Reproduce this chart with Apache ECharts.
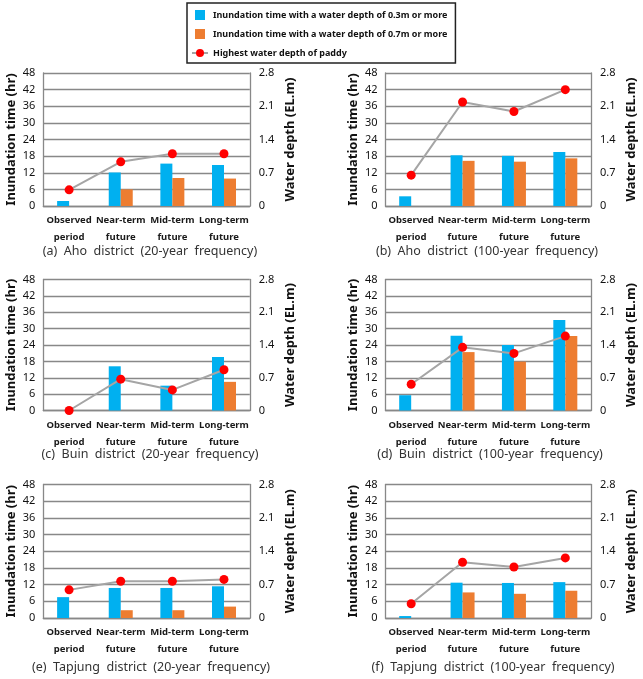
<!DOCTYPE html>
<html>
<head>
<meta charset="utf-8">
<script src="https://cdn.jsdelivr.net/npm/echarts@6/dist/echarts.min.js"></script>
<style>
html,body{margin:0;padding:0;background:#fff;}
#chart{width:643px;height:679px;}
</style>
</head>
<body>
<div id="chart"></div>
<script>
// ---- data ----
const categories = ['Observed\nperiod', 'Near-term\nfuture', 'Mid-term\nfuture', 'Long-term\nfuture'];
const timeTicks = [0, 6, 12, 18, 24, 30, 36, 42, 48];
const depthTicks = [0, 0.7, 1.4, 2.1, 2.8];
const seriesNames = [
  'Inundation time with a water depth of 0.3m or more',
  'Inundation time with a water depth of 0.7m or more',
  'Highest water depth of paddy'
];
const captions = [
  '(a)  Aho  district  (20-year  frequency)',
  '(b)  Aho  district  (100-year  frequency)',
  '(c)  Buin  district  (20-year  frequency)',
  '(d)  Buin  district  (100-year  frequency)',
  '(e)  Tapjung  district  (20-year  frequency)',
  '(f)  Tapjung  district  (100-year  frequency)'
];
const aho20_03 = [1.8, 12.1, 15.3, 14.8];
const aho20_07 = [0, 6.0, 10.1, 9.9];
const aho20_depth = [0.34, 0.93, 1.10, 1.10];
const aho100_03 = [3.5, 18.3, 18.1, 19.5];
const aho100_07 = [0, 16.3, 16.0, 17.2];
const aho100_depth = [0.65, 2.19, 1.99, 2.45];
const buin20_03 = [0, 16.2, 9.1, 19.6];
const buin20_07 = [0, 0, 0, 10.5];
const buin20_depth = [0.0, 0.67, 0.44, 0.87];
const buin100_03 = [5.6, 27.4, 24.0, 33.2];
const buin100_07 = [0, 21.4, 17.9, 27.3];
const buin100_depth = [0.56, 1.35, 1.22, 1.59];
const tap20_03 = [7.5, 10.8, 10.8, 11.4];
const tap20_07 = [0, 2.8, 2.8, 4.1];
const tap20_depth = [0.59, 0.77, 0.77, 0.81];
const tap100_03 = [0.7, 12.7, 12.6, 12.9];
const tap100_07 = [0, 9.2, 8.7, 9.8];
const tap100_depth = [0.30, 1.17, 1.07, 1.26];

const panels = [
  [aho20_03, aho20_07, aho20_depth],
  [aho100_03, aho100_07, aho100_depth],
  [buin20_03, buin20_07, buin20_depth],
  [buin100_03, buin100_07, buin100_depth],
  [tap20_03, tap20_07, tap20_depth],
  [tap100_03, tap100_07, tap100_depth]
];

// ---- layout ----
const FONT = 'Noto Sans';
const colLeft = [43.3, 385.5];
const colWidth = [206.5, 205.5];
const rowTop = [73, 279.5, 484.5];
const rowHeight = [133, 131, 133.5];
const capPos = [[150, 251], [487, 251], [150, 454], [490, 454], [151, 667], [493, 667]];
const GRID_COLOR = '#888888';
const BLUE = '#00B0F0', ORANGE = '#ED7D31', LINEC = '#A5A5A5', DOT = '#FF0000';

const grid = [], xAxis = [], yAxis = [], series = [], graphic = [];
panels.forEach((p, i) => {
  const c = i % 2, r = Math.floor(i / 2);
  grid.push({left: colLeft[c], top: rowTop[r], width: colWidth[c], height: rowHeight[r], containLabel: false});
  xAxis.push({
    type: 'category', gridIndex: i, data: categories,
    axisLine: {show: true, lineStyle: {color: GRID_COLOR, width: 1.3}},
    axisTick: {show: false},
    axisLabel: {fontFamily: FONT, fontSize: 9.5, fontWeight: 'bold', color: '#1a1a1a', lineHeight: 17, margin: 6, interval: 0}
  });
  yAxis.push({
    type: 'value', gridIndex: i, position: 'left',
    min: timeTicks[0], max: timeTicks[timeTicks.length - 1], interval: timeTicks[1] - timeTicks[0],
    name: 'Inundation time (hr)', nameLocation: 'middle', nameRotate: 90, nameGap: 26,
    nameTextStyle: {fontFamily: FONT, fontSize: 13, fontWeight: 'bold', color: '#111'},
    axisLine: {show: true, lineStyle: {color: GRID_COLOR, width: 1.3}},
    axisTick: {show: false},
    splitLine: {show: true, lineStyle: {color: GRID_COLOR, width: 1.3}},
    axisLabel: {fontFamily: FONT, fontSize: 11, color: '#111', margin: 8}
  });
  yAxis.push({
    type: 'value', gridIndex: i, position: 'right',
    min: depthTicks[0], max: depthTicks[depthTicks.length - 1], interval: depthTicks[1] - depthTicks[0],
    name: 'Water depth (EL.m)', nameLocation: 'middle', nameRotate: 90, nameGap: 34,
    nameTextStyle: {fontFamily: FONT, fontSize: 13, fontWeight: 'bold', color: '#111'},
    axisLine: {show: true, lineStyle: {color: GRID_COLOR, width: 1.3}},
    axisTick: {show: false},
    splitLine: {show: false},
    axisLabel: {fontFamily: FONT, fontSize: 11, color: '#111', margin: 9,
      formatter: v => String(Math.round(v * 10) / 10)}
  });
  series.push({
    name: seriesNames[0], type: 'bar', xAxisIndex: i, yAxisIndex: 2 * i,
    data: p[0], barWidth: 12, barGap: '0%', itemStyle: {color: BLUE}, silent: true
  });
  series.push({
    name: seriesNames[1], type: 'bar', xAxisIndex: i, yAxisIndex: 2 * i,
    data: p[1], barWidth: 12, barGap: '0%', itemStyle: {color: ORANGE}, silent: true
  });
  series.push({
    name: seriesNames[2], type: 'line', xAxisIndex: i, yAxisIndex: 2 * i + 1,
    data: p[2], symbol: 'circle', symbolSize: 9,
    lineStyle: {color: LINEC, width: 2}, itemStyle: {color: DOT}, z: 5, silent: true
  });
  graphic.push({
    type: 'text', x: capPos[i][0], y: capPos[i][1],
    style: {text: captions[i], font: `12.5px "${FONT}"`, fill: '#333', align: 'center', verticalAlign: 'middle'}
  });
});

const sq = 'path://M0,0H10V10H0Z';
const option = {
  animation: false,
  backgroundColor: '#fff',
  grid, xAxis, yAxis, series, graphic,
  legend: {
    orient: 'vertical', left: 187, top: 3,
    padding: [6, 8, 4, 4],
    itemWidth: 16, itemHeight: 10, itemGap: 7,
    borderColor: '#222', borderWidth: 1.5,
    backgroundColor: '#fff',
    selectedMode: false,
    textStyle: {fontFamily: FONT, fontSize: 9, fontWeight: 'bold', color: '#111', lineHeight: 12},
    data: [
      {name: seriesNames[0], icon: sq},
      {name: seriesNames[1], icon: sq},
      {name: seriesNames[2]}
    ]
  }
};
const chart = echarts.init(document.getElementById('chart'), null, {renderer: 'canvas'});
chart.setOption(option);
</script>
</body>
</html>
